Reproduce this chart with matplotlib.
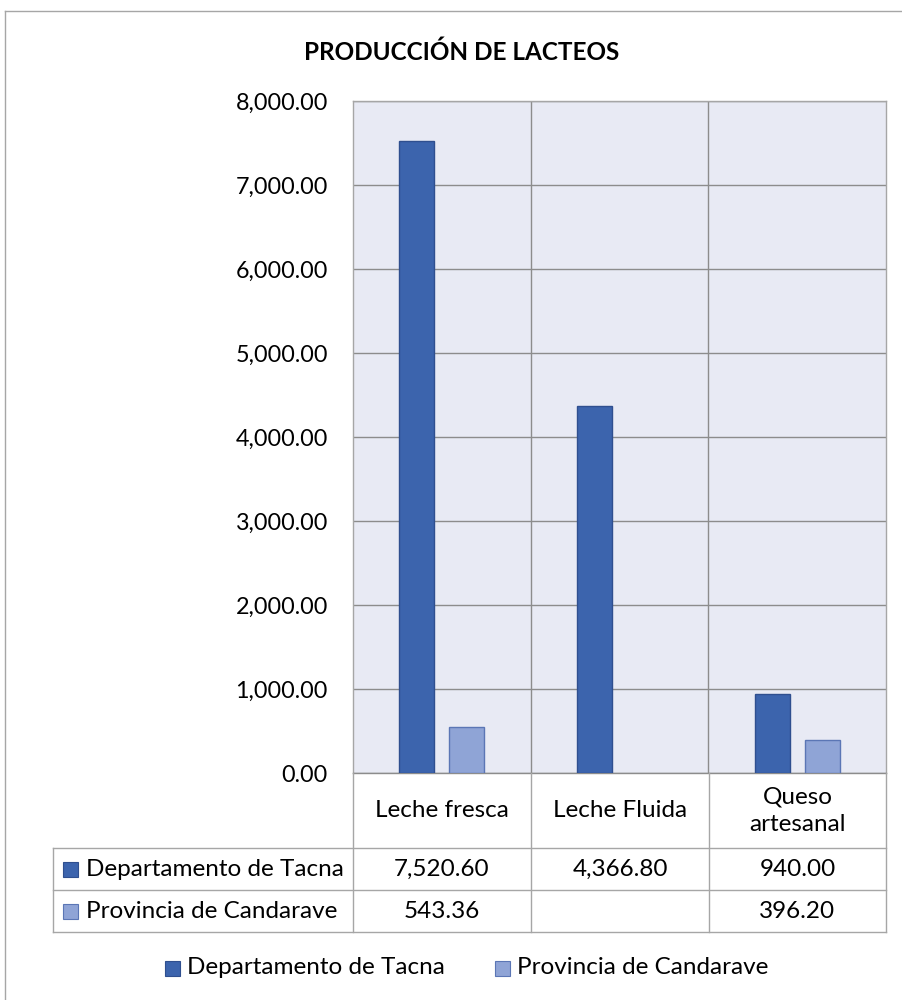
import matplotlib
matplotlib.use("Agg")
import matplotlib.pyplot as plt
from matplotlib.lines import Line2D
from matplotlib.patches import Rectangle

categories = ["Leche fresca", "Leche Fluida", "Queso\nartesanal"]
series_names = ["Departamento de Tacna", "Provincia de Candarave"]
tacna = [7520.60, 4366.80, 940.00]
candarave = [543.36, None, 396.20]
tacna_labels = ["7,520.60", "4,366.80", "940.00"]
candarave_labels = ["543.36", "", "396.20"]
yticks = [0, 1000, 2000, 3000, 4000, 5000, 6000, 7000, 8000]

dark = "#3C64AD"
light = "#8FA4D6"
dark_edge = "#2F4F8F"
light_edge = "#5B76B5"
bg = "#E8EAF4"
grid = "#8C8C8C"
tline = "#A6A6A6"
FONT = "Lato"
FS = 17.5

W, H = 903, 1000
fig = plt.figure(figsize=(W / 100, H / 100), dpi=100)
plt.rcParams['font.family'] = [FONT, 'DejaVu Sans']

def fx(px):
    return px / W

def fy(py):
    return 1 - py / H

L, R, T, B = 353, 886, 101, 773
ax = fig.add_axes([fx(L), fy(B), fx(R) - fx(L), fy(T) - fy(B)])
ax.set_facecolor(bg)
ax.set_xlim(-0.5, 2.5)
ax.set_ylim(0, 8000)

w = 35 / 178
off = 25 / 178
for i in range(len(categories)):
    if tacna[i] is not None:
        ax.bar(i - off, tacna[i], width=w, color=dark, edgecolor=dark_edge, linewidth=1, zorder=3)
    if candarave[i] is not None:
        ax.bar(i + off, candarave[i], width=w, color=light, edgecolor=light_edge, linewidth=1, zorder=3)

ax.set_yticks(yticks)
ax.set_yticklabels([f"{v:,.2f}" for v in yticks], fontsize=16.8, color="#000000")
ax.tick_params(axis='y', length=0, pad=18)
ax.set_xticks([0.5, 1.5])
ax.set_xticklabels([])
ax.tick_params(axis='x', length=0)
ax.grid(True, axis='both', color=grid, linewidth=1.0, zorder=1)
for s in ax.spines.values():
    s.set_color(tline)
    s.set_linewidth(1.0)
ax.spines['bottom'].set_color(grid)

fig.text(fx(462), fy(52), "PRODUCCIÓN DE LACTEOS", ha='center', va='center',
         fontsize=17.5, fontweight='bold', color="#000000")

def hline(x0, x1, y, color=tline):
    fig.add_artist(Line2D([fx(x0), fx(x1)], [fy(y), fy(y)], color=color, linewidth=1.0))

def vline(x, y0, y1, color=tline):
    fig.add_artist(Line2D([fx(x), fx(x)], [fy(y0), fy(y1)], color=color, linewidth=1.0))

# outer chart border
hline(5, 903, 11)
vline(5, 11, 1000)

# data table
cols = [353, 531, 709, 886]
r0, r1, r2, r3 = 773, 848, 890, 932
for x in cols:
    vline(x, r0, r3)
vline(53, r1, r3)
hline(53, 886, r1)
hline(53, 886, r2)
hline(53, 886, r3)

for i, c in enumerate(categories):
    cx = (cols[i] + cols[i + 1]) / 2
    fig.text(fx(cx), fy((r0 + r1) / 2), c, ha='center', va='center', fontsize=FS,
             linespacing=1.4, color="#000000")
    fig.text(fx(cx), fy((r1 + r2) / 2), tacna_labels[i], ha='center', va='center', fontsize=FS, color="#000000")
    fig.text(fx(cx), fy((r2 + r3) / 2), candarave_labels[i], ha='center', va='center', fontsize=FS, color="#000000")

def key(x, yc, color, edge):
    s = 15
    fig.add_artist(Rectangle((fx(x), fy(yc + s / 2)), s / W, s / H, facecolor=color,
                             edgecolor=edge, linewidth=0.8, transform=fig.transFigure))

key(63, (r1 + r2) / 2, dark, dark_edge)
fig.text(fx(86), fy((r1 + r2) / 2), series_names[0], ha='left', va='center', fontsize=FS, color="#000000")
key(63, (r2 + r3) / 2, light, light_edge)
fig.text(fx(86), fy((r2 + r3) / 2), series_names[1], ha='left', va='center', fontsize=FS, color="#000000")

# legend
ly = 968
key(165, ly, dark, dark_edge)
fig.text(fx(187), fy(ly), series_names[0], ha='left', va='center', fontsize=FS, color="#000000")
key(495, ly, light, light_edge)
fig.text(fx(517), fy(ly), series_names[1], ha='left', va='center', fontsize=FS, color="#000000")

fig.savefig("out.png", dpi=100, facecolor="white")
